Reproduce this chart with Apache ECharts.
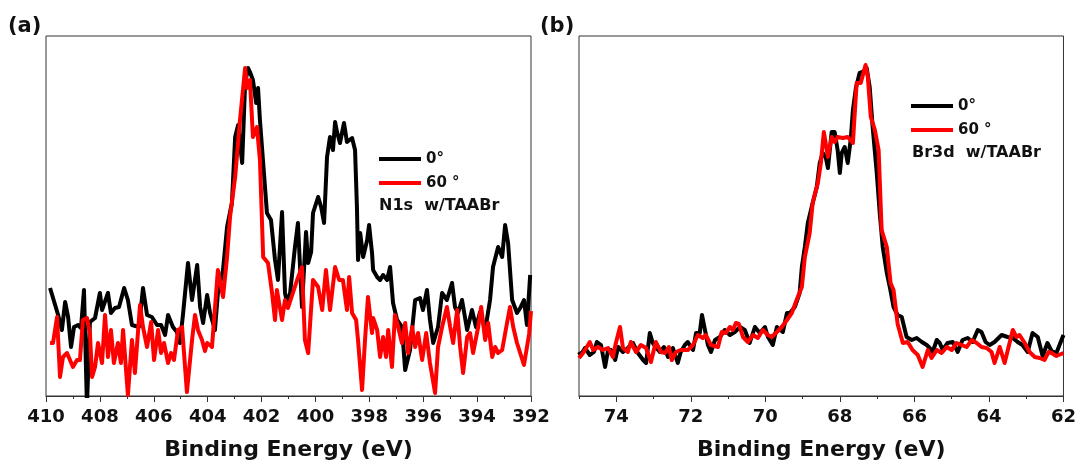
<!DOCTYPE html>
<html>
<head>
<meta charset="utf-8">
<script src="https://cdn.jsdelivr.net/npm/echarts@6/dist/echarts.min.js"></script>
<style>
  html, body { margin: 0; padding: 0; background: #fff; }
  #chart { width: 1079px; height: 466px; }
</style>
</head>
<body>
<div id="chart"></div>
<script>
// (a) N1s spectra, 0° and 60°
const n1sEnergy0 = [409.85, 409.55, 409.41, 409.29, 409.18, 409.07, 408.96, 408.81, 408.70, 408.59, 408.48, 408.37, 408.18, 408.00, 407.92, 407.70, 407.59, 407.44, 407.29, 407.10, 406.96, 406.81, 406.55, 406.40, 406.25, 406.07, 405.88, 405.73, 405.58, 405.47, 405.29, 405.14, 405.03, 404.91, 404.73, 404.58, 404.39, 404.28, 404.17, 404.02, 403.91, 403.73, 403.62, 403.43, 403.28, 403.10, 402.98, 402.87, 402.72, 402.61, 402.50, 402.43, 402.32, 402.20, 402.13, 402.06, 401.94, 401.80, 401.65, 401.50, 401.39, 401.24, 401.13, 401.05, 400.94, 400.76, 400.65, 400.50, 400.35, 400.27, 400.16, 400.09, 399.90, 399.79, 399.68, 399.57, 399.46, 399.35, 399.27, 399.20, 399.09, 398.94, 398.83, 398.64, 398.53, 398.46, 398.42, 398.34, 398.23, 398.08, 398.01, 397.90, 397.86, 397.71, 397.60, 397.49, 397.34, 397.23, 397.12, 396.97, 396.79, 396.67, 396.49, 396.30, 396.12, 396.01, 395.86, 395.75, 395.63, 395.45, 395.30, 395.12, 394.93, 394.82, 394.71, 394.56, 394.37, 394.19, 394.04, 393.89, 393.70, 393.52, 393.41, 393.22, 393.07, 392.96, 392.85, 392.70, 392.52, 392.40, 392.26, 392.15, 392.03];
const n1sCounts0 = [108, 81, 66, 94, 79, 49, 69, 71, 68, 106, -10, 74, 78, 103, 86, 103, 83, 88, 89, 108, 96, 71, 69, 108, 81, 79, 71, 71, 61, 81, 69, 64, 53, 83, 133, 96, 131, 89, 73, 101, 83, 66, 103, 126, 169, 193, 259, 271, 233, 313, 328, 324, 316, 293, 308, 276, 233, 183, 176, 136, 116, 184, 103, 93, 103, 149, 173, 89, 164, 133, 144, 183, 199, 189, 173, 239, 259, 246, 274, 264, 253, 273, 254, 258, 246, 189, 136, 163, 139, 156, 171, 143, 126, 119, 116, 121, 116, 129, 93, 76, 69, 26, 46, 96, 98, 86, 106, 76, 53, 69, 103, 96, 113, 89, 83, 96, 66, 86, 69, 84, 66, 96, 129, 149, 139, 171, 153, 96, 83, 88, 96, 71, 121];
const n1sEnergy60 = [409.85, 409.74, 409.59, 409.48, 409.37, 409.22, 409.11, 409.00, 408.85, 408.74, 408.63, 408.48, 408.37, 408.29, 408.18, 408.07, 407.92, 407.81, 407.70, 407.59, 407.48, 407.33, 407.22, 407.14, 406.96, 406.81, 406.70, 406.51, 406.40, 406.25, 406.10, 405.99, 405.84, 405.73, 405.62, 405.47, 405.36, 405.25, 405.10, 404.95, 404.77, 404.58, 404.47, 404.36, 404.21, 404.10, 404.02, 403.84, 403.62, 403.43, 403.28, 403.17, 402.98, 402.80, 402.61, 402.54, 402.43, 402.32, 402.17, 402.06, 401.94, 401.76, 401.61, 401.50, 401.43, 401.24, 401.13, 401.02, 400.68, 400.50, 400.39, 400.27, 400.09, 399.90, 399.75, 399.61, 399.46, 399.27, 399.12, 398.98, 398.83, 398.75, 398.64, 398.49, 398.42, 398.27, 398.16, 398.05, 397.90, 397.86, 397.71, 397.60, 397.49, 397.38, 397.30, 397.16, 397.05, 396.93, 396.79, 396.67, 396.56, 396.41, 396.30, 396.19, 396.04, 395.89, 395.75, 395.56, 395.45, 395.30, 395.12, 395.00, 394.89, 394.74, 394.63, 394.52, 394.37, 394.26, 394.15, 393.96, 393.85, 393.70, 393.59, 393.44, 393.33, 393.22, 393.07, 392.89, 392.78, 392.66, 392.52, 392.26, 392.07, 392.00];
const n1sCounts60 = [53, 53, 79, 19, 39, 43, 36, 29, 36, 36, 76, 78, 63, 19, 29, 53, 33, 81, 39, 66, 33, 53, 33, 66, 1, 56, 23, 91, 69, 49, 74, 36, 66, 43, 53, 33, 43, 36, 66, 69, 4, 56, 81, 66, 56, 45, 53, 49, 126, 99, 139, 179, 219, 276, 328, 308, 316, 259, 269, 236, 139, 133, 103, 76, 106, 76, 96, 88, 116, 129, 56, 43, 116, 109, 86, 126, 86, 129, 116, 116, 86, 119, 83, 76, 56, 6, 56, 99, 63, 78, 66, 39, 59, 39, 66, 29, 81, 69, 53, 73, 43, 69, 49, 63, 36, 63, 33, 3, 49, 69, 89, 69, 53, 86, 49, 23, 59, 63, 43, 69, 89, 56, 73, 39, 49, 43, 46, 73, 89, 69, 53, 31, 62, 85];

// (b) Br3d spectra, 0° and 60°
const br3dEnergy0 = [75.00, 74.95, 74.84, 74.71, 74.60, 74.52, 74.41, 74.30, 74.22, 74.14, 74.03, 73.95, 73.82, 73.69, 73.55, 73.42, 73.28, 73.20, 73.10, 73.02, 72.94, 72.83, 72.72, 72.61, 72.48, 72.35, 72.27, 72.16, 72.08, 71.94, 71.86, 71.76, 71.70, 71.62, 71.54, 71.46, 71.35, 71.22, 71.09, 70.95, 70.82, 70.68, 70.55, 70.42, 70.28, 70.15, 70.01, 69.93, 69.80, 69.69, 69.53, 69.42, 69.34, 69.21, 69.08, 69.02, 68.94, 68.86, 68.73, 68.62, 68.54, 68.46, 68.38, 68.32, 68.22, 68.14, 68.06, 68.00, 67.95, 67.87, 67.79, 67.71, 67.65, 67.57, 67.47, 67.39, 67.28, 67.20, 67.12, 67.01, 66.93, 66.85, 66.74, 66.66, 66.56, 66.45, 66.34, 66.21, 66.07, 65.94, 65.80, 65.67, 65.59, 65.51, 65.40, 65.32, 65.24, 65.11, 64.97, 64.84, 64.71, 64.57, 64.44, 64.30, 64.20, 64.09, 63.98, 63.85, 63.66, 63.50, 63.36, 63.23, 63.10, 62.96, 62.83, 62.69, 62.56, 62.43, 62.32, 62.19, 62.00];
const br3dCounts0 = [44, 41, 48, 41, 44, 54, 51, 29, 46, 46, 36, 49, 44, 48, 53, 43, 36, 33, 63, 53, 49, 44, 49, 39, 48, 33, 44, 51, 54, 46, 63, 63, 81, 66, 51, 44, 56, 59, 66, 61, 64, 69, 66, 53, 69, 63, 69, 59, 51, 69, 64, 83, 83, 89, 103, 129, 149, 173, 193, 209, 233, 243, 239, 228, 264, 264, 246, 223, 243, 249, 233, 256, 286, 308, 323, 324, 328, 309, 269, 223, 183, 149, 123, 109, 89, 81, 79, 59, 56, 58, 54, 51, 48, 44, 56, 53, 46, 53, 54, 44, 56, 58, 54, 66, 64, 54, 51, 54, 61, 59, 58, 54, 51, 44, 63, 59, 40, 53, 45, 43, 61];
const br3dEnergy60 = [75.00, 74.89, 74.71, 74.62, 74.49, 74.36, 74.22, 74.09, 74.01, 73.90, 73.82, 73.69, 73.61, 73.47, 73.34, 73.20, 73.07, 72.94, 72.80, 72.69, 72.59, 72.51, 72.40, 72.27, 72.08, 71.94, 71.81, 71.68, 71.60, 71.46, 71.27, 71.17, 71.06, 70.95, 70.87, 70.79, 70.71, 70.60, 70.47, 70.33, 70.20, 70.07, 69.93, 69.83, 69.69, 69.56, 69.42, 69.29, 69.16, 69.02, 68.94, 68.81, 68.73, 68.59, 68.51, 68.43, 68.32, 68.22, 68.14, 68.06, 67.92, 67.79, 67.65, 67.55, 67.44, 67.31, 67.25, 67.17, 67.06, 66.96, 66.88, 66.74, 66.64, 66.56, 66.45, 66.31, 66.18, 66.05, 65.91, 65.78, 65.64, 65.54, 65.40, 65.27, 65.13, 65.00, 64.87, 64.73, 64.60, 64.46, 64.33, 64.20, 64.06, 63.93, 63.85, 63.71, 63.58, 63.44, 63.36, 63.26, 63.18, 63.04, 62.91, 62.77, 62.64, 62.51, 62.40, 62.32, 62.19, 62.00];
const br3dCounts60 = [38, 43, 54, 46, 49, 46, 48, 39, 53, 69, 48, 44, 54, 44, 51, 48, 34, 54, 44, 43, 49, 36, 44, 46, 46, 51, 61, 58, 61, 51, 49, 64, 63, 69, 66, 73, 72, 59, 54, 61, 58, 66, 61, 59, 64, 69, 76, 83, 96, 109, 139, 163, 193, 213, 233, 264, 239, 259, 254, 259, 258, 259, 253, 313, 313, 331, 319, 279, 266, 246, 166, 149, 113, 106, 72, 53, 54, 46, 41, 29, 46, 38, 46, 43, 49, 46, 53, 51, 49, 56, 53, 49, 48, 44, 33, 49, 33, 54, 66, 59, 61, 53, 44, 39, 38, 36, 44, 43, 40, 43];

const seriesNames = ['0°', '60 °'];
const ticksA = [410, 408, 406, 404, 402, 400, 398, 396, 394, 392];
const minorTicksA = [409, 407, 405, 403, 401, 399, 397, 395, 393];
const ticksB = [74, 72, 70, 68, 66, 64, 62];
const minorTicksB = [75, 73, 71, 69, 67, 65, 63];

const FONT = '"DejaVu Sans", "Liberation Sans", Arial, sans-serif';
const AXIS_COLOR = '#333';

function zip(xs, ys) {
  return xs.map((x, i) => [x, ys[i]]);
}

function majorAxis(grid, min, max, ticks) {
  return {
    type: 'value', gridIndex: grid, min: min, max: max, inverse: true, position: 'bottom',
    name: 'Binding Energy (eV)', nameLocation: 'middle', nameGap: 43,
    nameTextStyle: { fontFamily: FONT, fontWeight: 'bold', fontSize: 22, color: '#111' },
    axisLine: { show: true, lineStyle: { color: AXIS_COLOR, width: 1 } },
    axisTick: { show: true, length: 6, customValues: ticks, lineStyle: { color: AXIS_COLOR, width: 1 } },
    axisLabel: { customValues: ticks, margin: 12, fontFamily: FONT, fontWeight: 'bold', fontSize: 18, color: '#111' },
    splitLine: { show: false }
  };
}

// second axis on the same grid, only for the short in-between ticks
function minorAxis(grid, min, max, ticks) {
  return {
    type: 'value', gridIndex: grid, min: min, max: max, inverse: true, position: 'bottom', offset: 0,
    axisLine: { show: false },
    axisTick: { show: true, length: 3, customValues: ticks, lineStyle: { color: AXIS_COLOR, width: 1 } },
    axisLabel: { show: false },
    splitLine: { show: false }
  };
}

function spectrum(name, color, axis, data) {
  return {
    name: name, type: 'line', xAxisIndex: axis, yAxisIndex: axis === 0 ? 0 : 1,
    data: data, showSymbol: false, symbol: 'none', clip: true,
    lineStyle: { color: color, width: 4, join: 'round' }, itemStyle: { color: color }
  };
}

function legendAt(left, top) {
  return {
    data: seriesNames, orient: 'vertical', left: left, top: top, padding: 0,
    icon: 'rect', itemWidth: 42, itemHeight: 4, itemGap: 6,
    textStyle: { fontFamily: FONT, fontWeight: 'bold', fontSize: 15, color: '#111', lineHeight: 18 }
  };
}

function label(text, left, top, size) {
  return {
    type: 'text', left: left, top: top,
    style: { text: text, fill: '#111', font: 'bold ' + size + 'px ' + FONT }
  };
}

const chart = echarts.init(document.getElementById('chart'), null, { renderer: 'canvas' });

chart.setOption({
  animation: false,
  backgroundColor: '#fff',
  grid: [
    { left: 46, top: 36, width: 485, height: 360, show: true, borderColor: AXIS_COLOR, borderWidth: 1 },
    { left: 579, top: 36, width: 485, height: 360, show: true, borderColor: AXIS_COLOR, borderWidth: 1 }
  ],
  xAxis: [
    majorAxis(0, 392, 410, ticksA),
    majorAxis(1, 62, 75, ticksB),
    minorAxis(0, 392, 410, minorTicksA),
    minorAxis(1, 62, 75, minorTicksB)
  ],
  yAxis: [
    { type: 'value', gridIndex: 0, min: 0, max: 360, show: false },
    { type: 'value', gridIndex: 1, min: 0, max: 360, show: false }
  ],
  legend: [legendAt(379, 150), legendAt(911, 97)],
  graphic: [
    label('(a)', 8, 16, 21),
    label('(b)', 540, 16, 21),
    label('N1s  w/TAABr', 379, 198, 16),
    label('Br3d  w/TAABr', 912, 145, 16)
  ],
  series: [
    spectrum(seriesNames[0], '#000000', 0, zip(n1sEnergy0, n1sCounts0)),
    spectrum(seriesNames[1], '#ff0000', 0, zip(n1sEnergy60, n1sCounts60)),
    spectrum(seriesNames[0], '#000000', 1, zip(br3dEnergy0, br3dCounts0)),
    spectrum(seriesNames[1], '#ff0000', 1, zip(br3dEnergy60, br3dCounts60))
  ]
});
</script>
</body>
</html>
